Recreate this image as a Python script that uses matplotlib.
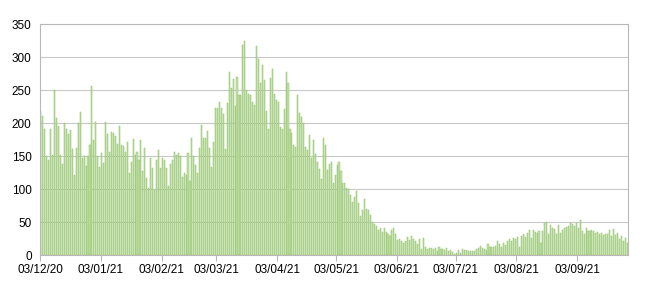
import numpy as np
import pandas as pd
import matplotlib
matplotlib.use("Agg")
import matplotlib.pyplot as plt
import matplotlib.dates as mdates

plt.rcParams['font.family'] = ['Liberation Sans', 'DejaVu Sans']

# daily values, from 03/12/20 onwards
dec_early_jan = [218, 211, 192, 150, 144, 192, 152, 251, 208, 196, 152, 138, 200, 191, 184, 190, 161,
                 122, 162, 201, 217, 147, 151, 135, 151, 167, 256, 175, 202, 150, 134, 155, 140]
jan_feb = [202, 184, 157, 187, 185, 181, 169, 196, 167, 165, 157, 172, 124, 142, 176, 152, 156, 144,
           175, 127, 162, 117, 102, 148, 132, 99, 144, 159, 133, 147, 144, 132, 105, 139, 145, 156,
           152, 155, 150]
feb_mar = [119, 125, 122, 155, 113, 177, 150, 137, 124, 162, 197, 177, 177, 189, 162, 134, 171, 223,
           223, 233, 223, 214, 161, 231, 278, 253, 267, 226, 270, 243, 243, 319, 324, 250, 244]
mar_apr = [243, 233, 228, 317, 298, 261, 288, 265, 218, 192, 268, 283, 245, 235, 233, 195, 192, 221,
           277, 261, 191, 186, 167, 164, 243, 216, 209, 200, 164, 159, 182, 147, 175, 154, 142, 130,
           115, 177]
apr_jun = [167, 129, 138, 142, 109, 122, 137, 142, 127, 109, 110, 102, 100, 91, 81, 88, 98, 79, 59, 68,
           85, 70, 69, 61, 51, 47, 44, 39, 41, 36, 41, 35, 32, 29, 38, 41, 32, 23, 24, 21, 18, 22, 27, 23]
jun_sep = [29, 24, 21, 17, 24, 9, 26, 12, 10, 11, 11, 9, 11, 6, 12, 9, 10, 8, 11, 6, 8, 5, 2, 4, 8, 3,
           9, 8, 8, 7, 6, 7, 7, 9, 11, 14, 11, 10, 8, 17, 12, 13, 12, 14, 21, 17, 13, 19, 16, 21, 24, 22,
           26, 24, 27, 13, 29, 32, 27, 34, 39, 26, 38, 36, 34, 37, 18, 37, 49, 51, 32, 46, 41, 40, 32,
           46, 34, 39, 42, 43, 45, 49, 48, 44, 49, 41, 53, 37, 32, 41, 37, 37, 39, 37, 34, 35, 32, 34,
           30, 33, 32, 39, 29, 40, 31, 34, 24, 29, 21, 26, 18]

values = dec_early_jan + jan_feb + feb_mar + mar_apr + apr_jun + jun_sep
tick_dates = ["2020-12-03", "2021-01-03", "2021-02-03", "2021-03-03", "2021-04-03",
              "2021-05-03", "2021-06-03", "2021-07-03", "2021-08-03", "2021-09-03"]

days = pd.date_range("2020-12-03", periods=len(values), freq="D")
centers = days + pd.Timedelta(hours=12)

fig = plt.figure(figsize=(6.5, 2.92), dpi=100)
ax = fig.add_axes([0.0615, 0.1257, 0.905, 0.7911])

ax.bar(centers, values, width=0.55, color="#c6e2b0", edgecolor="#8cc063", linewidth=0.35, zorder=2)

ax.set_ylim(0, 350)
ax.set_yticks(np.arange(0, 351, 50))
ax.set_xlim(pd.Timestamp("2020-12-03"), pd.Timestamp("2021-09-29"))
ax.set_xticks(pd.to_datetime(tick_dates))
ax.xaxis.set_major_formatter(mdates.DateFormatter("%d/%m/%y"))

ax.grid(axis="y", color="#c8c8c8", linewidth=0.8, zorder=0)
for s in ax.spines.values():
    s.set_color("#b8b8b8")
    s.set_linewidth(0.8)
ax.tick_params(axis="y", length=0, labelsize=8.5, pad=6)
ax.tick_params(axis="x", length=4, color="#b8b8b8", labelsize=8.5, pad=2)

fig.savefig("out.png", dpi=100)
